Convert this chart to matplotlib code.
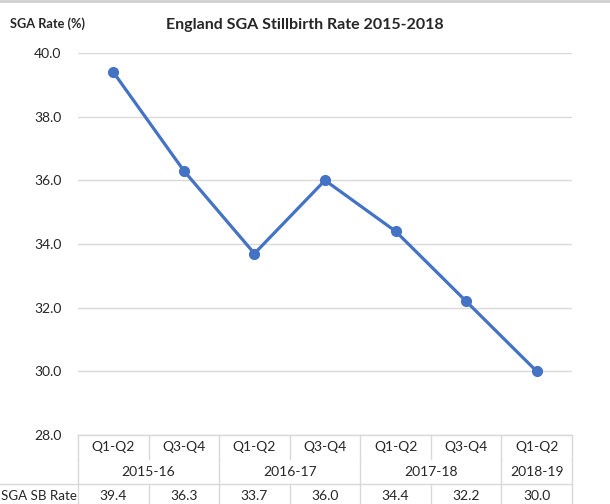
import matplotlib.pyplot as plt
from matplotlib.transforms import blended_transform_factory
from matplotlib.lines import Line2D

# Дані графіка
quarters = ['Q1-Q2', 'Q3-Q4', 'Q1-Q2', 'Q3-Q4', 'Q1-Q2', 'Q3-Q4', 'Q1-Q2']
years = ['2015-16', '2016-17', '2017-18', '2018-19']
year_spans = [(0, 1), (2, 3), (4, 5), (6, 6)]
rates = [39.4, 36.3, 33.7, 36.0, 34.4, 32.2, 30.0]
yticks = [28.0, 30.0, 32.0, 34.0, 36.0, 38.0, 40.0]

W, H = 610, 504
plt.rcParams['font.family'] = ['Lato', 'DejaVu Sans']
blue = '#4472C4'
grid = '#D9D9D9'
txt = '#262626'
fs = 10

fig = plt.figure(figsize=(W / 100, H / 100), dpi=100)
ax = fig.add_axes([78 / W, 1 - 435 / H, (572 - 78) / W, (435 - 53) / H])

x = list(range(len(rates)))
ax.plot(x, rates, color=blue, lw=2.3, marker='o', ms=7, zorder=3)

ax.set_xlim(-0.5, len(rates) - 0.5)
ax.set_ylim(28, 40)
ax.set_yticks(yticks)
ax.set_yticklabels([f'{v:.1f}' for v in yticks], fontsize=fs, color=txt)
ax.tick_params(axis='y', length=0, pad=12)
ax.set_xticks([])
ax.grid(axis='y', color=grid, lw=1)
ax.set_axisbelow(True)
for s in ax.spines.values():
    s.set_visible(False)

# Заголовок і підпис осі
fig.text(305 / W, 1 - 25 / H, 'England SGA Stillbirth Rate 2015-2018',
         ha='center', va='center', fontsize=11.5, fontweight='bold', color=txt)
fig.text(10 / W, 1 - 24 / H, 'SGA Rate (%)', ha='left', va='center',
         fontsize=9.2, fontweight='bold', color=txt)

# Таблиця під віссю
tr = blended_transform_factory(ax.transData, fig.transFigure)
def fy(py):
    return 1 - py / H

def hline(x0, x1, py, trans=tr):
    fig.add_artist(Line2D([x0, x1], [fy(py), fy(py)], transform=trans,
                          color=grid, lw=1, clip_on=False))

def vline(xd, p0, p1):
    fig.add_artist(Line2D([xd, xd], [fy(p0), fy(p1)], transform=tr,
                          color=grid, lw=1, clip_on=False))

n = len(rates)
hline(-0.5, n - 0.5, 435)
hline(-0.5, n - 0.5, 484)
fig.add_artist(Line2D([0, 78 / W], [fy(484), fy(484)], transform=fig.transFigure,
                      color=grid, lw=1))
for i in range(n + 1):
    vline(i - 0.5, 435, 459)
    vline(i - 0.5, 484, 505)
for a, b in year_spans:
    vline(a - 0.5, 459, 484)
vline(n - 0.5, 459, 484)

for i, q in enumerate(quarters):
    fig.text(i, fy(447), q, transform=tr, ha='center', va='center', fontsize=fs, color=txt)
    fig.text(i, fy(496), f'{rates[i]:.1f}', transform=tr, ha='center', va='center',
             fontsize=fs, color=txt)
for yr, (a, b) in zip(years, year_spans):
    fig.text((a + b) / 2, fy(472), yr, transform=tr, ha='center', va='center',
             fontsize=fs, color=txt)
fig.text(1 / W, fy(496), 'SGA SB Rate', ha='left', va='center', fontsize=9.6, color=txt)

# Тонка рамка зверху
fig.add_artist(Line2D([0, 1], [fy(1), fy(1)], transform=fig.transFigure,
                      color='#CFCFCF', lw=2))

fig.savefig('out.png', dpi=100)
